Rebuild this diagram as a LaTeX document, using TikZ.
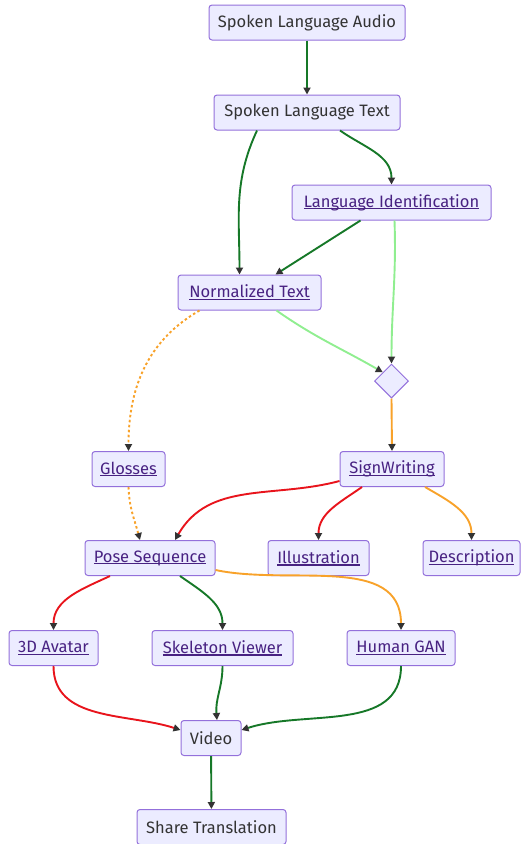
\documentclass[tikz,border=0pt]{standalone}
\usepackage{fontspec}
\setmainfont{Fira Sans}
\usetikzlibrary{positioning,arrows.meta,shapes.geometric}
\definecolor{boxfill}{RGB}{236,236,255}
\definecolor{boxline}{RGB}{147,112,219}
\definecolor{linkpurple}{RGB}{72,34,130}
\definecolor{txtgray}{RGB}{51,51,51}
\definecolor{tipgray}{RGB}{51,51,51}
\definecolor{dkgreen}{RGB}{22,120,40}
\definecolor{ltgreen}{RGB}{144,238,144}
\definecolor{edgeorange}{RGB}{248,162,42}
\definecolor{edgered}{RGB}{232,20,28}
\newcommand{\lnk}[1]{\textcolor{linkpurple}{\setbox0\hbox{#1}\rlap{\rule[-2.2pt]{\wd0}{1.1pt}}\box0}}

\begin{document}
\begin{tikzpicture}[x=1pt,y=-1pt,
 box/.style={rounded corners=3pt,draw=boxline,fill=boxfill,line width=1pt,minimum height=35pt,inner sep=0pt,font=\fontsize{16.5}{19}\selectfont,text=txtgray},
 arr/.style={-{Triangle[length=7pt,width=7pt,color=tipgray]},line width=1.9pt},
 grn/.style={arr,draw=dkgreen},lgrn/.style={arr,draw=ltgreen},
 org/.style={arr,draw=edgeorange},red/.style={arr,draw=edgered},
 dots/.style={org,dash pattern=on 2.5pt off 2.5pt}]
\useasboundingbox (0,0) rectangle (522,844);
\node[box,minimum width=196pt] (audio) at (307,22.5) {Spoken Language Audio};
\node[box,minimum width=186pt] (spoken) at (307,112.5) {Spoken Language Text};
\node[box,minimum width=199pt] (langid) at (391.5,202.5) {\lnk{Language Identification}};
\node[box,minimum width=143pt] (norm) at (249.5,292.5) {\lnk{Normalized Text}};
\node[diamond,draw=boxline,fill=boxfill,line width=1pt,minimum size=34pt,inner sep=0pt] (join) at (391.5,381) {};
\node[box,minimum width=73pt] (gloss) at (128.5,469) {\lnk{Glosses}};
\node[box,minimum width=104pt] (sw) at (392,469) {\lnk{SignWriting}};
\node[box,minimum width=130pt] (pose) at (150,558) {\lnk{Pose Sequence}};
\node[box,minimum width=101pt] (illus) at (318.5,558) {\lnk{Illustration}};
\node[box,minimum width=97pt] (descr) at (471.5,558) {\lnk{Description}};
\node[box,minimum width=89pt] (avatar) at (53.5,648) {\lnk{3D Avatar}};
\node[box,minimum width=141pt] (skel) at (222.5,648) {\lnk{Skeleton Viewer}};
\node[box,minimum width=108pt] (gan) at (401,648) {\lnk{Human GAN}};
\node[box,minimum width=60pt] (video) at (211,738) {Video};
\node[box,minimum width=149pt] (share) at (211.5,827) {Share Translation};
\draw[grn](audio)--(spoken);
\draw[grn]([xshift=33pt]spoken.south) to[out=-35,in=90] (langid.north);
\draw[grn]([xshift=-50pt]spoken.south) to[out=-115,in=90] ([xshift=-10pt]norm.north);
\draw[grn]([xshift=-31pt]langid.south)--([xshift=26pt]norm.north);
\draw[lgrn]([xshift=3pt]langid.south) to[out=-88,in=90] (join.north);
\draw[lgrn]([xshift=27pt]norm.south) to[out=-35,in=150] (join.north west);
\draw[dots]([xshift=-50pt]norm.south) to[out=-150,in=90] (gloss.north);
\draw[org](join.south)--(sw.north);
\draw[dots](gloss.south) to[out=-88,in=105] ([xshift=-10pt]pose.north);
\draw[red]([yshift=-12pt]sw.west) to[out=-165,in=60] ([xshift=25pt]pose.north);
\draw[red]([xshift=-30pt]sw.south) to[out=-145,in=90] (illus.north);
\draw[org]([xshift=33pt]sw.south) to[out=-30,in=90] (descr.north);
\draw[red]([xshift=-40pt]pose.south) to[out=-155,in=90] (avatar.north);
\draw[grn]([xshift=30pt]pose.south) to[out=-35,in=90] (skel.north);
\draw[org]([yshift=-12pt]pose.east) to[out=-12,in=90] (gan.north);
\draw[red](avatar.south) to[out=-90,in=162] ([yshift=8pt]video.west);
\draw[grn](skel.south) to[out=-90,in=95] ([xshift=6pt]video.north);
\draw[grn](gan.south) to[out=-90,in=18] ([yshift=8pt]video.east);
\draw[grn](video)--(share);
\end{tikzpicture}
\end{document}
